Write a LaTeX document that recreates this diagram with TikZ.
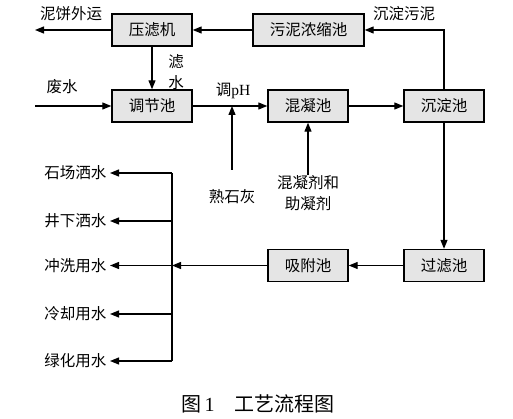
\documentclass[tikz,border=0pt]{standalone}
\usepackage{fontspec}
\setmainfont{Liberation Serif}
\newfontfamily\cjk{Noto Sans CJK SC}
\usetikzlibrary{
  arrows.meta,
}

\begin{document}
\begin{tikzpicture}[
  x=1pt, y=-1pt,
  font=\cjk\fontsize{15.5}{21}\selectfont,
  every pool/.style={draw, line width=1.4pt, fill=black!10, minimum height=32pt, inner sep=0pt},
  pool/.style={every pool, minimum width=#1},
  pool/.default=80pt,
  pipe/.style={line width=1.2pt},
  flow/.style={pipe, -{Triangle[length=9pt,width=7pt]}},
]
\useasboundingbox (0,0) rectangle (513,419);
% treatment units
\node[pool] (press) at (152,30) {压滤机};
\node[pool=111pt] (thicken) at (308.5,30) {污泥浓缩池};
\node[pool] (adjust) at (152,106) {调节池};
\node[pool] (coag) at (308,106) {混凝池};
\node[pool] (settle) at (444,106) {沉淀池};
\node[pool] (filter) at (444,265.5) {过滤池};
\node[pool] (adsorb) at (308,265.5) {吸附池};
% free ends
\coordinate (cake) at (35,30);
\coordinate (waste) at (35,106);
\coordinate (lime) at (232,170);
\coordinate (limein) at (232,106);
\coordinate (agent) at (308,175);
% main flow
\draw[flow] (waste) -- (adjust);
\draw[flow] (adjust) -- (coag);
\draw[flow] (coag) -- (settle);
\draw[flow] (settle) -- (filter);
\draw[flow] (filter) -- (adsorb);
\draw[flow] (lime) -- (limein);
\draw[flow] (agent) -- (coag);
% sludge line
\draw[flow] (settle.north) |- (thicken.east);
\draw[flow] (thicken) -- (press);
\draw[flow] (press) -- (cake);
\draw[flow] (press) -- (adjust);
% reuse
\foreach \y/\name/\txt in {173/yard/石场洒水, 221/mine/井下洒水, 265.5/wash/冲洗用水, 314/cool/冷却用水, 361/green/绿化用水} {
  \coordinate (tap\name) at (172,\y);
  \node[anchor=east] (\name) at (110,\y) {\txt};
  \draw[flow] (tap\name) -- (\name);
}
\draw[pipe] (tapyard) -- (tapgreen);
\draw[flow] (adsorb) -- (tapwash);
% labels
\node (cakelbl) at (71,14) {泥饼外运};
\node[align=center] (filtlbl) at (176,72) {滤\\水};
\node (wastelbl) at (62,87) {废水};
\node (phlbl) at (233,91) {调{\rmfamily pH}};
\node (limelbl) at (232,197) {熟石灰};
\node[align=center] (agentlbl) at (308,193) {混凝剂和\\助凝剂};
\node (sludgelbl) at (404,14) {沉淀污泥};
\node[font=\cjk\fontsize{20}{22}\selectfont] (caption) at (258,404) {图\,{\rmfamily 1}\quad 工艺流程图};
\end{tikzpicture}
\end{document}
